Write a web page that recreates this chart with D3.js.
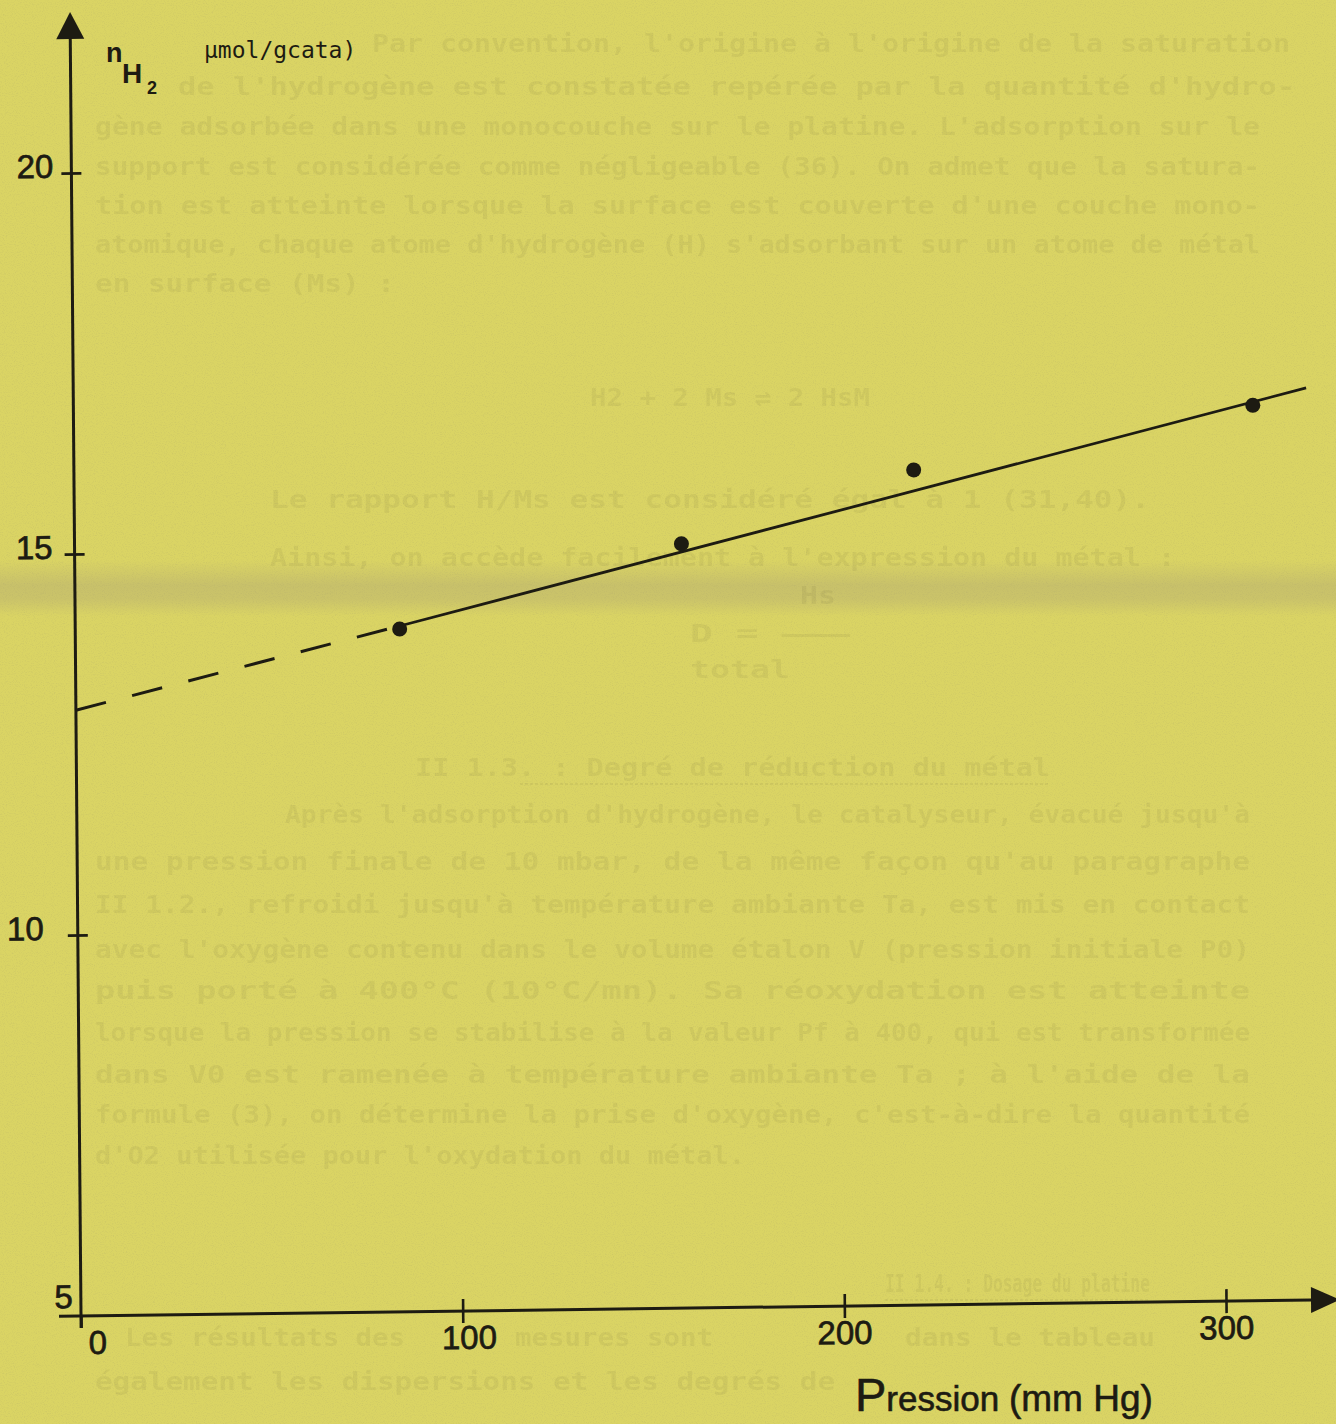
<!DOCTYPE html>
<html>
<head>
<meta charset="utf-8">
<script src="https://cdn.jsdelivr.net/npm/d3@7"></script>
<style>
  html, body { margin: 0; padding: 0; background: #dad464; }
  svg { display: block; }
</style>
</head>
<body>
<svg id="chart" width="1336" height="1424"></svg>
<script>
// values
const pressure = [85, 159, 220, 309];      // mm Hg
const nH2 = [13.96, 15.03, 15.96, 16.75];  // µmol / g cata
const fitExtrap = [[0, 12.95], [85, 14.0]];    // dashed part
const fitLine = [[85, 14.0], [323, 16.97]];    // solid part
const xTicks = [0, 100, 200, 300];
const yTicks = [10, 15, 20];
const yBase = 5;

// text of the page showing through the paper
const ghost = [
  {t: "Par convention, l'origine à l'origine de la saturation", x: 372, y: 52, w: 918},
  {t: "de l'hydrogène est constatée repérée par la quantité d'hydro-", x: 178, y: 95, w: 1117},
  {t: "gène adsorbée dans une monocouche sur le platine. L'adsorption sur le", x: 95, y: 135, w: 1165},
  {t: "support est considérée comme négligeable (36). On admet que la satura-", x: 95, y: 175, w: 1165},
  {t: "tion est atteinte lorsque la surface est couverte d'une couche mono-", x: 95, y: 214, w: 1165},
  {t: "atomique, chaque atome d'hydrogène (H) s'adsorbant sur un atome de métal", x: 95, y: 253, w: 1165},
  {t: "en surface (Ms) :", x: 95, y: 292, w: 300},
  {t: "H2 + 2 Ms ⇌ 2 HsM", x: 590, y: 406, w: 280},
  {t: "Le rapport H/Ms est considéré égal à 1 (31,40).", x: 270, y: 508, w: 880},
  {t: "Ainsi, on accède facilement à l'expression du métal :", x: 270, y: 566, w: 905},
  {t: "Hs", x: 800, y: 604, w: 36},
  {t: "D = ———", x: 690, y: 642, w: 160},
  {t: "total", x: 690, y: 678, w: 100},
  {t: "II 1.3. : Degré de réduction du métal", x: 415, y: 776, w: 635},
  {t: "Après l'adsorption d'hydrogène, le catalyseur, évacué jusqu'à", x: 285, y: 823, w: 965},
  {t: "une pression finale de 10   mbar, de la même façon qu'au paragraphe", x: 95, y: 870, w: 1155},
  {t: "II 1.2., refroidi jusqu'à température ambiante Ta, est mis en contact", x: 95, y: 913, w: 1155},
  {t: "avec l'oxygène contenu dans le volume étalon V (pression initiale P0)", x: 95, y: 958, w: 1155},
  {t: "puis porté à 400°C (10°C/mn). Sa réoxydation est atteinte", x: 95, y: 999, w: 1155},
  {t: "lorsque la pression se stabilise à la valeur Pf à 400, qui est transformée", x: 95, y: 1041, w: 1155},
  {t: "dans V0 est ramenée à température ambiante Ta ; à l'aide de la", x: 95, y: 1083, w: 1155},
  {t: "formule (3), on détermine la prise d'oxygène, c'est-à-dire la quantité", x: 95, y: 1123, w: 1155},
  {t: "d'O2 utilisée pour l'oxydation du métal.", x: 95, y: 1164, w: 650},
  {t: "II 1.4. : Dosage du platine", x: 885, y: 1292, w: 265},
  {t: "Les résultats des", x: 125, y: 1346, w: 280},
  {t: "mesures sont", x: 515, y: 1346, w: 198},
  {t: "dans le tableau", x: 905, y: 1346, w: 250},
  {t: "également les dispersions et les degrés de", x: 95, y: 1390, w: 740}
];

const W = 1336, H = 1424;
const ink = '#1d1b12';
const svg = d3.select('#chart');
const defs = svg.append('defs');

// paper grain
const grain = defs.append('filter').attr('id', 'grain')
  .attr('x', 0).attr('y', 0).attr('width', '100%').attr('height', '100%');
grain.append('feTurbulence').attr('type', 'fractalNoise')
  .attr('baseFrequency', 0.9).attr('numOctaves', 2).attr('seed', 7).attr('result', 'n');
grain.append('feColorMatrix').attr('in', 'n').attr('type', 'matrix')
  .attr('values', '0 0 0 0 0.40  0 0 0 0 0.37  0 0 0 0 0.15  1.8 0 0 0 -0.85');

// grey smudge across the page
const band = defs.append('linearGradient').attr('id', 'band')
  .attr('x1', 0).attr('y1', 0).attr('x2', 0).attr('y2', 1);
band.append('stop').attr('offset', '0%').attr('stop-color', '#9a907a').attr('stop-opacity', 0);
band.append('stop').attr('offset', '45%').attr('stop-color', '#9a907a').attr('stop-opacity', 0.28);
band.append('stop').attr('offset', '70%').attr('stop-color', '#9a907a').attr('stop-opacity', 0.24);
band.append('stop').attr('offset', '100%').attr('stop-color', '#9a907a').attr('stop-opacity', 0);

svg.append('rect').attr('width', W).attr('height', H).attr('fill', '#dad464');
svg.append('rect').attr('width', W).attr('height', H).attr('filter', 'url(#grain)').attr('opacity', 0.3);
svg.append('rect').attr('x', 0).attr('y', 560).attr('width', W).attr('height', 56).attr('fill', 'url(#band)');

const ghostG = svg.append('g').attr('opacity', 0.07);
ghostG.selectAll('text')
  .data(ghost)
  .enter()
  .append('text')
  .attr('x', d => d.x)
  .attr('y', d => d.y)
  .attr('textLength', d => d.w)
  .attr('lengthAdjust', 'spacingAndGlyphs')
  .attr('font-family', 'DejaVu Sans Mono, monospace')
  .attr('font-size', 25)
  .attr('font-weight', 'bold')
  .attr('fill', '#4a4225')
  .text(d => d.t);
// underlined headings
ghostG.append('line').attr('x1', 520).attr('y1', 784).attr('x2', 1050).attr('y2', 784)
  .attr('stroke', '#4a4225').attr('stroke-width', 2).attr('stroke-dasharray', '3,2');
ghostG.append('line').attr('x1', 885).attr('y1', 1300).attr('x2', 1150).attr('y2', 1300)
  .attr('stroke', '#4a4225').attr('stroke-width', 2).attr('stroke-dasharray', '3,2');

// the scan is slightly skewed, so the plot is drawn in its own frame
const x = d3.scaleLinear().domain([0, 300]).range([81, 1226]);
const y = d3.scaleLinear().domain([yBase, 20]).range([1316, 173]);
const ox = x(0), oy = y(yBase);

const plot = svg.append('g')
  .attr('transform', `translate(${ox},${oy}) matrix(1,-0.013,0.0084,1,0,0) translate(${-ox},${-oy})`);

// axis lines + arrow heads
plot.append('line')
  .attr('x1', ox).attr('y1', oy + 12).attr('x2', ox).attr('y2', 36)
  .attr('stroke', ink).attr('stroke-width', 3);
plot.append('path')
  .attr('d', `M${ox},12 L${ox - 14},39 L${ox + 14},39 Z`)
  .attr('fill', ink);
plot.append('line')
  .attr('x1', ox - 22).attr('y1', oy).attr('x2', 1312).attr('y2', oy)
  .attr('stroke', ink).attr('stroke-width', 3);
plot.append('path')
  .attr('d', `M1340,${oy} L1311,${oy - 13} L1311,${oy + 13} Z`)
  .attr('fill', ink);

// y ticks
const yLabelOffset = {20: -18, 15: -22, 10: -34};
const yAxis = plot.append('g')
  .attr('transform', `translate(${ox},0)`)
  .call(d3.axisLeft(y).tickValues(yTicks).tickSize(10));
yAxis.select('.domain').remove();
yAxis.selectAll('.tick line')
  .attr('x1', -10).attr('x2', 10)
  .attr('stroke', ink).attr('stroke-width', 2.6);
yAxis.selectAll('.tick text')
  .attr('x', d => yLabelOffset[d])
  .attr('dy', '0.12em')
  .attr('fill', ink)
  .attr('stroke', ink).attr('stroke-width', 0.7)
  .attr('font-family', 'Liberation Sans, Arial, sans-serif')
  .attr('font-size', 33);

plot.append('text')
  .attr('x', ox - 8).attr('y', oy - 8)
  .attr('text-anchor', 'end')
  .attr('fill', ink).attr('stroke', ink).attr('stroke-width', 0.7)
  .attr('font-family', 'Liberation Sans, Arial, sans-serif')
  .attr('font-size', 33)
  .text(yBase);

// x ticks
const xLabelOffset = {0: 16, 100: 6, 200: 0, 300: 0};
const xAxis = plot.append('g')
  .attr('transform', `translate(0,${oy})`)
  .call(d3.axisBottom(x).tickValues(xTicks).tickSize(12));
xAxis.select('.domain').remove();
xAxis.selectAll('.tick line')
  .attr('y1', d => d === 0 ? 0 : -12).attr('y2', 12)
  .attr('stroke', ink).attr('stroke-width', 2.6);
xAxis.selectAll('.tick text')
  .attr('x', d => xLabelOffset[d])
  .attr('y', 38).attr('dy', 0)
  .attr('fill', ink)
  .attr('stroke', ink).attr('stroke-width', 0.7)
  .attr('font-family', 'Liberation Sans, Arial, sans-serif')
  .attr('font-size', 33);

// regression line
const line = d3.line().x(d => x(d[0])).y(d => y(d[1]));
plot.append('path')
  .datum(fitExtrap)
  .attr('d', line)
  .attr('fill', 'none')
  .attr('stroke', ink).attr('stroke-width', 3)
  .attr('stroke-dasharray', '31,27');
plot.append('path')
  .datum(fitLine)
  .attr('d', line)
  .attr('fill', 'none')
  .attr('stroke', ink).attr('stroke-width', 2.8);

plot.selectAll('circle.pt')
  .data(pressure)
  .enter()
  .append('circle')
  .attr('class', 'pt')
  .attr('cx', d => x(d))
  .attr('cy', (d, i) => y(nH2[i]))
  .attr('r', 7.5)
  .attr('fill', ink);

// axis titles
const yTitle = svg.append('g');
yTitle.append('text')
  .attr('x', 106).attr('y', 62)
  .attr('font-family', 'Liberation Sans, Arial, sans-serif')
  .attr('font-size', 27).attr('font-weight', 'bold').attr('fill', ink)
  .text('n');
yTitle.append('text')
  .attr('x', 122).attr('y', 83)
  .attr('font-family', 'Liberation Sans, Arial, sans-serif')
  .attr('font-size', 28).attr('font-weight', 'bold').attr('fill', ink)
  .text('H');
yTitle.append('text')
  .attr('x', 147).attr('y', 94)
  .attr('font-family', 'Liberation Sans, Arial, sans-serif')
  .attr('font-size', 18).attr('font-weight', 'bold').attr('fill', ink)
  .text('2');
yTitle.append('text')
  .attr('x', 204).attr('y', 58)
  .attr('font-family', 'DejaVu Sans Mono, monospace')
  .attr('font-size', 23).attr('fill', ink)
  .text('µmol/gcata)');

const xTitle = svg.append('text')
  .attr('x', 855).attr('y', 1411)
  .attr('font-family', 'Liberation Sans, Arial, sans-serif')
  .attr('fill', ink).attr('stroke', ink).attr('stroke-width', 0.6);
xTitle.append('tspan').attr('font-size', 47).text('P');
xTitle.append('tspan').attr('font-size', 35).text('ression ');
xTitle.append('tspan').attr('font-size', 37).text('(mm Hg)');
</script>
</body>
</html>
